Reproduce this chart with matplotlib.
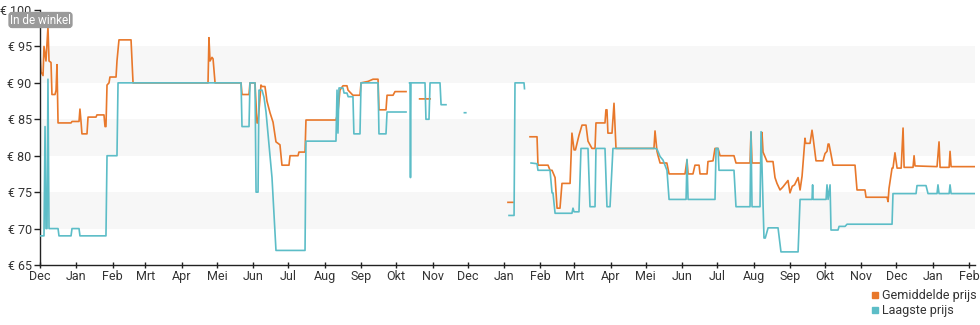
import numpy as np
import pandas as pd
import matplotlib
matplotlib.use("Agg")
import matplotlib.pyplot as plt
import matplotlib.dates as mdates
from matplotlib.lines import Line2D

plt.rcParams['font.family'] = ['Roboto', 'DejaVu Sans']

START = pd.Timestamp("2022-12-01")
NAN = np.nan

# Gemiddelde prijs: days since START, price in euro (NaN = no data)
avg_days = [
    0, 0.9, 2.6, 3.4, 5.1, 6.8, 7.7, 9.4, 10.2, 12.8, 13.7, 14.5, 15.4, 26.5, 27.3, 33.3,
    34.1, 35, 35.8, 40.1, 41, 47.8, 48.6, 54.6, 55.5, 56.3, 57.2, 58.9, 59.7, 64.9, 65.7,
    67.4, 77.7, 79.4, 143.4, 144.2, 145.1, 146.8, 147.7, 149.4, 171.6, 172.4, 178.4, 179.2,
    183.5, 185.2, 186.1, 188.6, 189.5, 192, 192.9, 193.7, 196.3, 198.9, 201.4, 204.8, 206.5,
    212.5, 213.4, 220.2, 221, 226.2, 227, 252.6, 254.3, 256, 258.6, 262, 262.9, 267.1, 273.1,
    274, 280, 284.2, 288.5, 289.3, 295.3, 296.2, 301.3, 303, 312.4, 313,
    324, 325, 333, 334,
    399.4, 403.7, 404,
    418.2, 424.2, 425, 433.6, 435.3, 437, 439.6, 441.3, 443.8, 445.5, 452.4, 454, 455.8, 457,
    460, 462.6, 466, 467.7, 471.1, 473.7, 474.5, 482.2, 483, 483.9, 484.7, 488.2, 489.9,
    491.6, 524, 524.9, 526.6, 527.5, 529.2, 535, 536.9, 550.5, 552.2, 553.1, 557.3, 559,
    562.5, 563.3, 569.3, 570.1, 574.4, 576.1, 578.7, 580.4, 592.3, 594, 606, 606.8, 607.7,
    615.4, 616.2, 617.1, 620.5, 625.6, 627.3, 629, 631.6, 634, 638.4, 640.1, 642, 644, 647,
    648.7, 650.4, 652.9, 653.5, 657.2, 658.9, 659.8, 662.3, 668.3, 670, 671.7, 672.6, 673.4,
    675.1, 676.8, 695.6, 697.3, 704.1, 705, 722.9, 723.8, 724.6, 727.2, 728, 729.7, 731.5,
    735, 736.6, 737.5, 745.1, 746, 746.8, 765.6, 767.3, 768.2, 775.9, 776.7, 777.6, 798,
]
avg_price = [
    94, 91.5, 91, 95, 93, 97.7, 93, 92.8, 88.4, 88.4, 89, 92.5, 84.5, 84.5, 84.7, 84.7,
    86.4, 84.7, 83, 83, 85.3, 85.3, 85.6, 85.6, 84, 84, 89.7, 90, 90.8, 90.8, 93,
    95.9, 95.9, 90, 90, 96.2, 93, 93.5, 93.3, 90, 90, 88.4, 88.4, 90,
    90, 84.5, 84.5, 89.7, 89.5, 89.5, 88.5, 87.5, 85.9, 84.6, 81.9, 81.5, 78.7,
    78.7, 80, 80, 80.5, 80.5, 84.9, 84.9, 86, 89, 89.6, 89.6, 89, 88.3, 88.3,
    90, 90.2, 90.5, 90.5, 86.3, 86.3, 88.3, 88.3, 88.8, 88.8, NAN,
    87.8, 87.8, 87.8, NAN,
    73.6, 73.6, NAN,
    82.6, 82.6, 78.7, 78.7, 78, 78, 77, 72.8, 72.8, 76.2, 76.2, 83.1, 80.8, 80.8,
    82.8, 84.2, 84.2, 82, 81, 81, 84.5, 84.5, 86.3, 86.3, 83.1, 83.1, 87.2,
    81, 81, 83.4, 80.6, 80, 79, 79, 77.5, 77.5, 79.4, 77.5, 77.5, 78.7,
    78.7, 77.5, 77.5, 79.2, 79.3, 81, 81, 80, 80, 79, 79, 83.2, 79,
    79, 83.2, 80.5, 79.2, 79.2, 77, 76.2, 75.3, 75.7, 76.6, 74.9, 75.8, 76, 77,
    75.3, 77.2, 82.4, 81.7, 81.7, 83.5, 82.5, 79.3, 79.3, 80.3, 80.6, 81.6, 81.6,
    80.2, 78.7, 78.7, 75.3, 75.3, 74.3, 74.3, 73.7, 75.5, 78.3, 78.3, 80.4, 78.3,
    78.3, 83.8, 78.4, 78.4, 80, 78.6, 78.5, 81.9, 78.4, 78.4, 80.6, 78.5, 78.5,
]

# Laagste prijs: days since START, price in euro (NaN = no data)
low_days = [
    0, 3.4, 4.3, 5.1, 6, 6.8, 7.7, 15.4, 16.2, 26.5, 27.3, 33.3, 34.1, 56.3, 57.2, 65.7,
    66.6, 171.6, 172.4, 178.4, 179.2, 183.5, 184.4, 186.1, 186.9, 189.5, 191.2, 192.9, 196.3,
    198, 201.4, 226.2, 227, 252.6, 253.5, 254.3, 255.2, 258.6, 259.5, 262, 263, 267.1, 267.9,
    273.1, 274, 288.5, 289.3, 295.3, 296.2, 312.4, 313,
    315.4, 315.8, 316.2, 316.6, 328.6, 329.4, 332, 332.9, 341.4, 342.3, 346.5, 347,
    362.2, 363.4, 364,
    400.3, 404.6, 405.4, 413.1, 413.5, 414,
    419.1, 424.2, 425, 435.3, 437, 437.8, 439.6, 454, 454.9, 455.8, 460, 461.7, 466, 467.7,
    469.4, 473.7, 474.5, 482.2, 483.9, 486.5, 489, 524.9, 526.6, 529.2, 531.7, 535.1, 536.9,
    551.4, 552.2, 553.1, 576.1, 577, 578.7, 579.5, 592.3, 594, 606, 606.8, 607.7, 614.5,
    615.4, 617.9, 619, 621.4, 629.9, 632.4, 647, 648.7, 658.9, 659.4, 659.8, 670.9, 671.7,
    672.6, 674.3, 675.1, 676, 681.1, 682, 687.1, 688.8, 727.2, 728, 747.7, 748.5, 756.2,
    757.9, 765.6, 766.4, 767.3, 775.9, 776.7, 777.6, 798,
]
low_price = [
    69, 69, 84, 70, 70, 90.5, 70, 70, 69, 69, 70, 70, 69, 69, 80, 80,
    90, 90, 84, 84, 90, 90, 75, 75, 89, 89, 88, 86, 80,
    77, 67, 67, 82, 82, 89, 83.1, 89.3, 89.3, 88.6, 88.6, 88.1, 88.1, 83,
    83, 90, 90, 83, 83, 86, 86, NAN,
    90, 90, 77, 90, 90, 85, 85, 90, 90, 87, 87, NAN,
    85.9, 85.9, NAN,
    71.8, 71.8, 90, 90, 89.2, NAN,
    79, 78.9, 78, 78, 74.9, 74.9, 72.1, 72.1, 72.8, 72.3, 72.3, 81, 81, 81,
    73, 73, 81, 81, 73, 73, 81, 81, 80.9, 79.9, 79.4, 78, 74,
    74, 79.5, 74, 74, 81, 81, 78, 78, 73, 73, 83.3, 73, 73,
    83.3, 68.7, 68.7, 70.1, 70.1, 66.8, 66.8, 74, 74, 76, 74, 74, 76,
    74, 76, 69.8, 69.8, 69.8, 70.3, 70.3, 70.6, 70.6, 74.8, 74.8, 75.9, 75.9,
    74.8, 74.8, 76, 74.8, 74.8, 76, 74.8, 74.8,
]

month_labels = ['Jan', 'Feb', 'Mrt', 'Apr', 'Mei', 'Jun',
                'Jul', 'Aug', 'Sep', 'Okt', 'Nov', 'Dec']
y_ticks = [65, 70, 75, 80, 85, 90, 95, 100]
shaded_bands = [(70, 75), (80, 85), (90, 95)]

ORANGE = '#e8782b'
TEAL = '#5cbdc7'
TEXT = '#333333'

avg_x = START + pd.to_timedelta(avg_days, unit='D')
low_x = START + pd.to_timedelta(low_days, unit='D')

fig = plt.figure(figsize=(9.8, 3.25), dpi=100)
ax = fig.add_axes([40 / 980, 1 - 265 / 325, 935 / 980, 255 / 325])

for lo, hi in shaded_bands:
    ax.axhspan(lo, hi, color='#f7f7f7', lw=0, zorder=0)

ax.plot(avg_x, avg_price, color=ORANGE, lw=1.2, zorder=2, solid_joinstyle='round')
ax.plot(low_x, low_price, color=TEAL, lw=1.2, zorder=3, solid_joinstyle='round')

ax.set_ylim(65, 100)
ax.set_xlim(START, START + pd.Timedelta(days=798))
ax.set_yticks(y_ticks)
ax.set_yticklabels([f'€ {v}' for v in y_ticks])

ax.xaxis.set_major_locator(mdates.MonthLocator())
ax.xaxis.set_major_formatter(
    plt.FuncFormatter(lambda v, _: month_labels[mdates.num2date(v).month - 1]))

for side in ('top', 'right'):
    ax.spines[side].set_visible(False)
for side in ('left', 'bottom'):
    ax.spines[side].set_color('#222222')
    ax.spines[side].set_linewidth(1.0)

ax.tick_params(axis='y', direction='out', length=4, width=1, color='#222222',
               labelsize=9, labelcolor=TEXT, pad=2)
ax.tick_params(axis='x', direction='inout', length=5, width=1, color='#222222',
               labelsize=9, labelcolor=TEXT, pad=1)

fig.text(10 / 980, 1 - 20 / 325, 'In de winkel', fontsize=8.5, color='white',
         va='center', ha='left', zorder=5,
         bbox=dict(boxstyle='round,pad=0.08,rounding_size=0.25',
                   fc='#9a9a9a', ec='#9a9a9a'))

handles = [
    Line2D([], [], marker='s', ls='none', color=ORANGE, markersize=5),
    Line2D([], [], marker='s', ls='none', color=TEAL, markersize=5),
]
fig.legend(handles, ['Gemiddelde prijs', 'Laagste prijs'],
           loc='upper left', bbox_to_anchor=(871 / 980, 1 - 289 / 325),
           frameon=False, fontsize=9, handlelength=0.6, handletextpad=0.25,
           borderpad=0, borderaxespad=0, labelspacing=0.15, labelcolor=TEXT)

fig.savefig('out.png', dpi=100, facecolor='white')
